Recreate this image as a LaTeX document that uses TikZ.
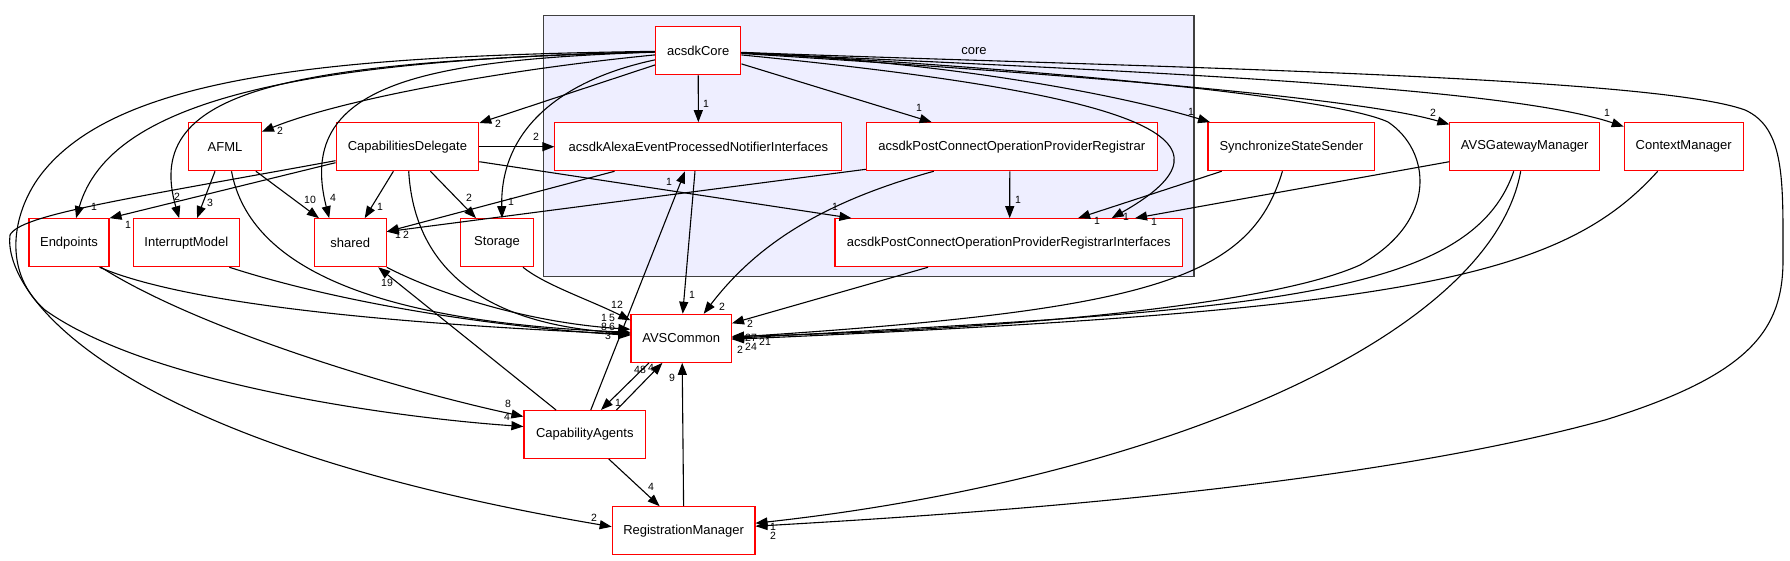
\documentclass[tikz,border=0pt]{standalone}
\usepackage{fontspec}
\setmainfont{Liberation Sans}
\usetikzlibrary{arrows.meta,calc}
\definecolor{clusterfill}{RGB}{238,238,255}
\definecolor{clusterdraw}{RGB}{64,64,64}
\begin{document}
\begin{tikzpicture}[x=1pt,y=-1pt,
  box/.style={draw=red, fill=white, line width=1.1pt, minimum height=48pt, inner sep=0pt, font=\fontsize{13}{15}\selectfont},
  edge/.style={line width=1.1pt, -{Triangle[length=12pt,width=9pt]}},
  lbl/.style={font=\fontsize{10.5}{12}\selectfont, inner sep=0pt}]
\useasboundingbox (0,0) rectangle (1790,560);
\fill[white] (0,0) rectangle (1790,560);
\draw[fill=clusterfill, draw=clusterdraw, line width=1.3pt] (543.4,15.7) rectangle (1194,276.7);
\node[font=\fontsize{13}{15}\selectfont] (corelbl) at (974,50.7) {core};

% nodes
\node[box, minimum width=85.4pt] (acore) at (698.2,50.7) {acsdkCore};
\node[box, minimum width=72.7pt] (afml) at (225,146.7) {AFML};
\node[box, minimum width=142.7pt] (capdel) at (407.4,146.7) {CapabilitiesDelegate};
\node[box, minimum width=287pt] (alexa) at (698.4,146.7) {acsdkAlexaEventProcessedNotifierInterfaces};
\node[box, minimum width=290.8pt] (reg) at (1011.8,146.7) {acsdkPostConnectOperationProviderRegistrar};
\node[box, minimum width=166.8pt] (sss) at (1291.4,146.7) {SynchronizeStateSender};
\node[box, minimum width=149.6pt] (avsgw) at (1524.7,146.7) {AVSGatewayManager};
\node[box, minimum width=118.9pt] (cm) at (1683.7,146.7) {ContextManager};
\node[box, minimum width=80pt] (endpoints) at (69,242.7) {Endpoints};
\node[box, minimum width=105.6pt] (im) at (186.4,242.7) {InterruptModel};
\node[box, minimum width=72pt] (shared) at (350.2,242.7) {shared};
\node[box, minimum width=72.3pt] (storage) at (497,242.7) {Storage};
\node[box, minimum width=347.4pt] (pcopri) at (1008.7,242.7) {acsdkPostConnectOperationProviderRegistrarInterfaces};
\node[box, minimum width=100.5pt] (avs) at (681.2,338.3) {AVSCommon};
\node[box, minimum width=121.7pt] (cap) at (584.8,434.5) {CapabilityAgents};
\node[box, minimum width=142.7pt] (rm) at (683.6,530.7) {RegistrationManager};

% straight edges
\draw[edge] (acore) -- (alexa);
\draw[edge] (acore) -- (reg);
\draw[edge] (acore) -- (capdel);
\draw[edge] (capdel) -- (alexa);
\draw[edge] ([yshift=-16pt]capdel.west) -- (endpoints.north east);
\draw[edge] ([xshift=-14pt]capdel.south) -- ([xshift=14.5pt]shared.north);
\draw[edge] ([xshift=23pt]capdel.south) -- ([xshift=-21pt]storage.north);
\draw[edge] ([yshift=-15pt]capdel.east) -- ([xshift=17pt]pcopri.north west);
\draw[edge] ([xshift=-10pt]afml.south) -- ([xshift=10.6pt]im.north);
\draw[edge] ([xshift=-6pt]afml.south east) -- ([xshift=5.3pt]shared.north west);
\draw[edge] ([xshift=-2pt]reg.south) -- ([xshift=1pt]pcopri.north);
\draw[edge] ([xshift=-69.7pt]sss.south) -- ([xshift=69.3pt]pcopri.north);
\draw[edge] ([yshift=-15pt]avsgw.west) -- ([xshift=126.3pt]pcopri.north);
\draw[edge] ([xshift=-83.8pt]alexa.south) -- ([yshift=11pt]shared.east);
\draw[edge] ([yshift=-22.6pt]reg.west) -- ([yshift=11pt]shared.east);
\draw[edge] ([xshift=-3.4pt]alexa.south) -- ([xshift=1.5pt]avs.north);
\draw[edge] ([xshift=-80.7pt]pcopri.south) -- ([yshift=15pt]avs.east);
\draw[edge] ([xshift=6pt]cap.north) -- ([xshift=-13.4pt]alexa.south);
\draw[edge] ([xshift=-28.8pt]cap.north) -- ([xshift=28pt]shared.south);
\draw[edge] ([xshift=31.7pt]cap.north) -- ([xshift=-18.8pt]avs.south);
\draw[edge] ([xshift=-32.2pt]avs.south) -- ([xshift=16.2pt]cap.north);
\draw[edge] ([xshift=24pt]cap.south) -- ([xshift=-24pt]rm.north);
\draw[edge] (rm.north) -- ([xshift=1pt]avs.south);

% curved edges from acsdkCore
\draw[edge] (acore) .. controls (500,70) and (340,100) .. (afml);
\draw[edge] (acore) .. controls (300,60) and (110,100) .. (endpoints);
\draw[edge] (acore) .. controls (300,62) and (140,85) .. (im);
\draw[edge] (acore) .. controls (420,60) and (295,85) .. ([xshift=-21pt]shared.north);
\draw[edge] (acore) .. controls (560,80) and (500,130) .. ([xshift=5pt]storage.north);
\draw[edge] (acore) .. controls (1150,95) and (1250,140) .. ([xshift=103pt]pcopri.north);
\draw[edge] (acore) .. controls (950,62) and (1120,95) .. (sss);
\draw[edge] (acore) .. controls (1000,70) and (1350,95) .. (avsgw);
\draw[edge] (acore) .. controls (1100,70) and (1500,85) .. (cm);
\draw[edge] (acore) .. controls (1000,66) and (1330,95) .. (1388,122)
  .. controls (1430,150) and (1440,220) .. (1360,265)
  .. controls (1260,310) and (950,332) .. ([yshift=2pt]avs.east);
\draw[edge] (acore) .. controls (1100,66) and (1650,75) .. (1745,110)
  .. controls (1785,128) and (1783,180) .. (1783,260)
  .. controls (1783,330) and (1750,375) .. (1605,420)
  .. controls (1350,490) and (950,515) .. ([yshift=4.5pt]rm.east);
\draw[edge] (acore) .. controls (330,56) and (110,75) .. (37,180)
  .. controls (10,220) and (5,275) .. (45,310)
  .. controls (150,385) and (400,418) .. ([yshift=8pt]cap.west);

% other curved edges
\draw[edge] ([xshift=-4pt]avsgw.south) .. controls (1490,340) and (1150,480) .. ([yshift=7.5pt]rm.east);
\draw[edge] ([xshift=-11pt]avsgw.south) .. controls (1470,300) and (1250,310) .. (avs.east);
\draw[edge] ([xshift=-9pt]sss.south) .. controls (1250,280) and (1150,310) .. ([yshift=1pt]avs.east);
\draw[edge] ([xshift=-26pt]cm.south) .. controls (1560,280) and (1400,310) .. ([yshift=-1pt]avs.east);
\draw[edge] ([xshift=-78pt]reg.south) .. controls (830,200) and (760,240) .. ([xshift=22.5pt]avs.north);
\draw[edge] ([xshift=26pt]storage.south) .. controls (545,285) and (590,300) .. ([yshift=18pt]avs.west);
\draw[edge] (shared.south east) .. controls (430,290) and (520,322) .. ([yshift=9pt]avs.west);
\draw[edge] ([xshift=6.5pt]afml.south) .. controls (250,270) and (380,322) .. ([yshift=6pt]avs.west);
\draw[edge] ([xshift=1.3pt]capdel.south) .. controls (415,280) and (500,326) .. ([yshift=5pt]avs.west);
\draw[edge] ([xshift=30.5pt]endpoints.south) .. controls (200,310) and (450,326) .. ([yshift=4pt]avs.west);
\draw[edge] ([xshift=43pt]im.south) .. controls (330,300) and (480,326) .. ([yshift=3pt]avs.west);
\draw[edge] ([xshift=32pt]endpoints.south) .. controls (200,330) and (400,390) .. ([yshift=18pt]cap.west);
\draw[edge] ([yshift=-14pt]capdel.west) .. controls (120,200) and (20,215) .. (10,235)
  .. controls (3,290) and (100,440) .. ([yshift=4pt]rm.west);

% labels
\node[lbl] (l1) at (706,104) {1};
\node[lbl] (l2) at (919,108) {1};
\node[lbl] (l3) at (498,124) {2};
\node[lbl] (l4) at (536,137) {2};
\node[lbl] (l5) at (128,225) {1};
\node[lbl] (l6) at (380,207) {1};
\node[lbl] (l7) at (469,198) {2};
\node[lbl] (l8) at (835,207) {1};
\node[lbl] (l9) at (210,203) {3};
\node[lbl] (l10) at (310,200) {10};
\node[lbl] (l11) at (1018,200) {1};
\node[lbl] (l12) at (1097,221) {1};
\node[lbl] (l13) at (1154,222) {1};
\node[lbl] (l14) at (398,235) {1};
\node[lbl] (l15) at (406,235) {2};
\node[lbl] (l16) at (692,295) {1};
\node[lbl] (l17) at (750,324) {2};
\node[lbl] (l18) at (669,182) {1};
\node[lbl] (l19) at (387,283) {19};
\node[lbl] (l20) at (640,370) {48};
\node[lbl] (l20b) at (651,368) {4};
\node[lbl] (l21) at (618,403) {1};
\node[lbl] (l22) at (651,487) {4};
\node[lbl] (l23) at (672,378) {9};
\node[lbl] (l24) at (280,131) {2};
\node[lbl] (l25) at (94,207) {1};
\node[lbl] (l26) at (177,197) {2};
\node[lbl] (l27) at (333,198) {4};
\node[lbl] (l28) at (511,202) {1};
\node[lbl] (l29) at (1126,217) {1};
\node[lbl] (l30) at (1191,112) {1};
\node[lbl] (l31) at (1433,113) {2};
\node[lbl] (l32) at (1607,113) {1};
\node[lbl] (l33) at (751,338) {27};
\node[lbl] (l34) at (751,347) {24};
\node[lbl] (l35) at (765,342) {21};
\node[lbl] (l36) at (740,350) {2};
\node[lbl] (l37) at (773,536) {2};
\node[lbl] (l38) at (773,527) {1};
\node[lbl] (l39) at (722,307) {2};
\node[lbl] (l40) at (617,305) {12};
\node[lbl] (l41) at (604,318) {1};
\node[lbl] (l42) at (612,318) {5};
\node[lbl] (l43) at (604,327) {8};
\node[lbl] (l44) at (612,327) {6};
\node[lbl] (l45) at (608,336) {3};
\node[lbl] (l46) at (508,404) {8};
\node[lbl] (l47) at (507,417) {4};
\node[lbl] (l48) at (594,518) {2};
\end{tikzpicture}
\end{document}
